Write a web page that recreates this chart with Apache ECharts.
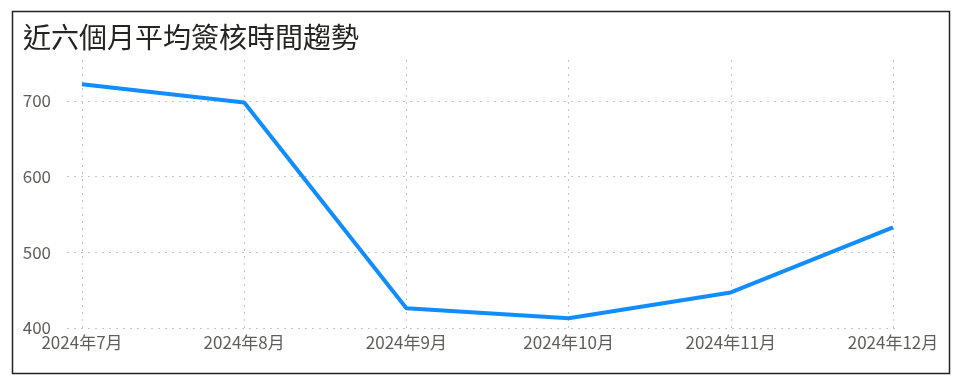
<!DOCTYPE html>
<html><head><meta charset="utf-8">
<script src="https://cdn.jsdelivr.net/npm/echarts@6/dist/echarts.min.js"></script>
<style>html,body{margin:0;padding:0;background:#fff}#c{width:969px;height:391px}</style>
</head><body><div id="c"></div>
<script>
const title = '近六個月平均簽核時間趨勢';
const categories = ['2024年7月','2024年8月','2024年9月','2024年10月','2024年11月','2024年12月'];
const values = [722, 698, 426, 413, 447, 533];
const yMin = 400, yMax = 754, yInterval = 100;

const chart = echarts.init(document.getElementById('c'));
const font = '"Noto Sans CJK TC", "Noto Sans", sans-serif';
chart.setOption({
  animation: false,
  textStyle: {fontFamily: font},
  title: {text: title, left: 18, top: 18, textStyle: {fontSize: 28, fontWeight: 'normal', color: '#252423', fontFamily: font}},
  graphic: [{type: 'rect', shape: {x: 12.5, y: 11.5, width: 937, height: 362}, style: {fill: 'none', stroke: '#222', lineWidth: 1.5}, z: 100}],
  grid: [
    {left: 67, width: 833, top: 60, bottom: 63},
    {left: 82, width: 811, top: 60, bottom: 63}
  ],
  xAxis: [
    {gridIndex: 0, type: 'category', data: categories, show: false},
    {gridIndex: 1, type: 'category', data: categories, boundaryGap: false,
     axisLine: {show: false}, axisTick: {show: false},
     axisLabel: {color: '#605e5c', fontSize: 17, margin: 6, fontFamily: font},
     splitLine: {show: true, lineStyle: {type: [2, 5], color: '#c8c6c4', width: 1}}}
  ],
  yAxis: [
    {gridIndex: 0, type: 'value', min: yMin, max: yMax, interval: yInterval,
     axisLine: {show: false}, axisTick: {show: false},
     axisLabel: {color: '#605e5c', fontSize: 17, margin: 16, fontFamily: font, showMaxLabel: false},
     splitLine: {show: true, showMaxLine: false, lineStyle: {type: [2, 5], color: '#c8c6c4', width: 1}}},
    {gridIndex: 1, type: 'value', min: yMin, max: yMax, interval: yInterval, show: false, splitLine: {show: false}}
  ],
  series: [{type: 'line', xAxisIndex: 1, yAxisIndex: 1, data: values, showSymbol: false,
    lineStyle: {color: '#118DFF', width: 4}, itemStyle: {color: '#118DFF'}}]
});
</script></body></html>
